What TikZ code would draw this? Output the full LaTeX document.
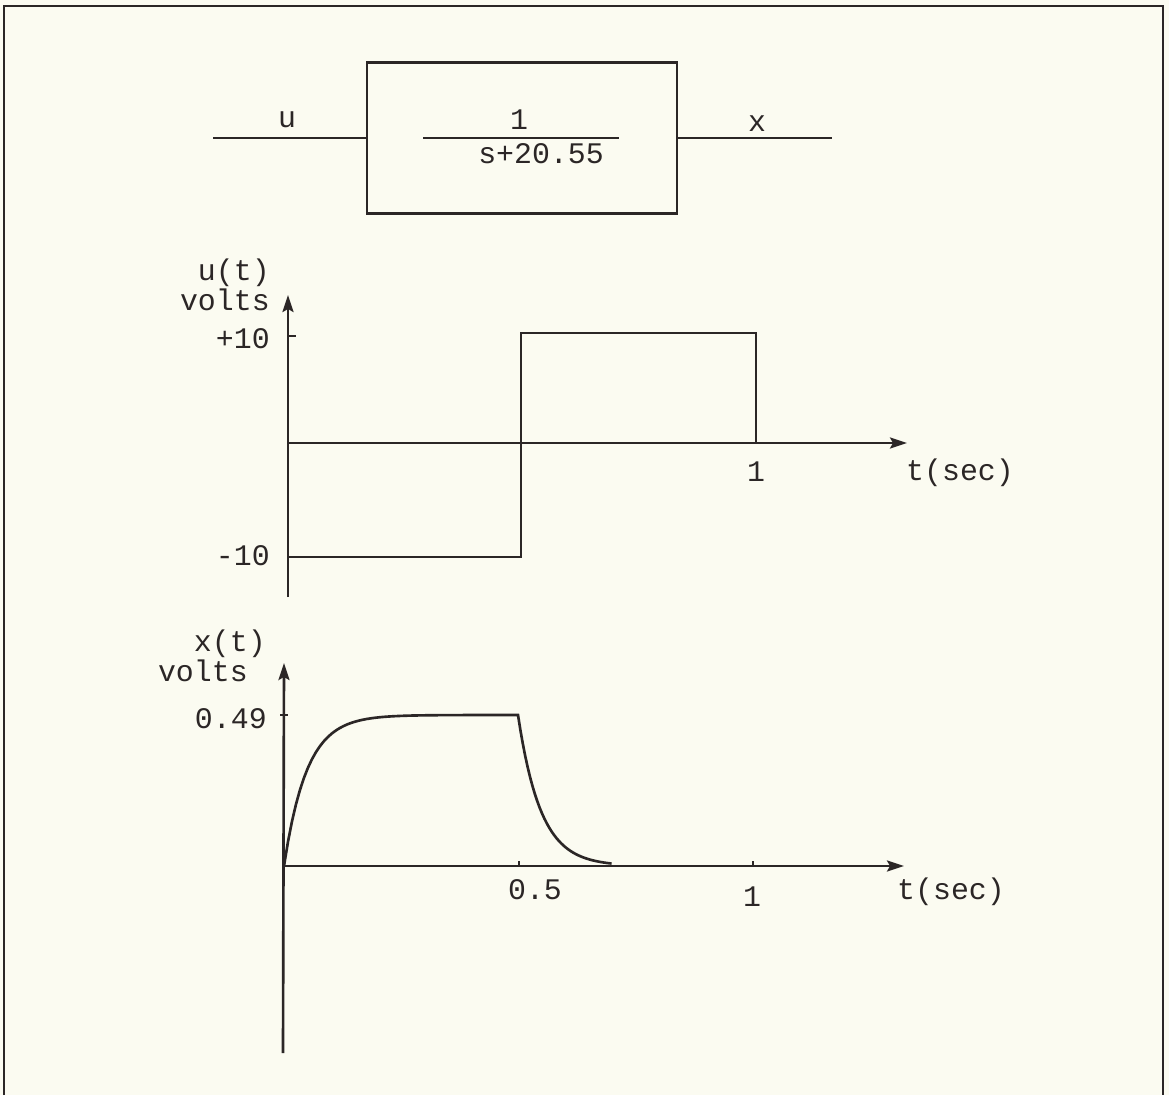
\documentclass[tikz,border=0pt]{standalone}
\usepackage{fontspec}
\setmainfont{Liberation Mono}
\usepackage{tikz}
\usetikzlibrary{arrows.meta}
\usepackage{xcolor}
\definecolor{ink}{HTML}{2B2626}
\definecolor{paper}{HTML}{FBFBF1}

\begin{document}
\begin{tikzpicture}[x=0.02cm,y=-0.02cm,line width=1.5pt,color=ink,
  every node/.style={inner sep=0pt,font=\fontsize{17}{20}\selectfont},
  lbl/.style={anchor=base},
  lblr/.style={anchor=base east},
  axis/.style={-{Stealth[length=0.34cm,width=0.22cm,inset=0.06cm]}}]
  \useasboundingbox (0,0) rectangle (1169,1095);
  \fill[paper] (0,0) rectangle (1169,1095);
  \draw[line width=1pt] (4,1095) -- (4,6) -- (1163,6) -- (1163,1095);
  % block diagram
  \node[draw,minimum width=6.2cm,minimum height=3.02cm] (plant) at (522,138) {};
  \coordinate (uin) at (213,138);
  \coordinate (xout) at (832,138);
  \draw (uin) -- (plant.west);
  \draw (plant.east) -- (xout);
  \node[lbl] (ulab) at (287,128) {u};
  \node[lbl] (xlab) at (757,132) {x};
  \node[lbl] (num) at (519,130) {1};
  \node[lbl] (den) at (541,163) {s+20.55};
  \coordinate (barl) at (423,138);
  \coordinate (barr) at (619,138);
  \draw (barl) -- (barr);
  % u(t)
  \coordinate (uo) at (288,443);
  \coordinate (ubot) at (288,597);
  \coordinate (utop) at (288,295);
  \coordinate (uend) at (907,443);
  \draw[axis] (ubot) -- (utop);
  \draw[axis] (uo) -- (uend);
  \draw (288,336) -- ++(8,0);
  \draw (288,557) -- (521,557) -- (521,333) -- (756,333) -- (756,443);
  \node[lblr] (ut) at (271,280) {u(t)};
  \node[lblr] (uvolts) at (271,310) {volts};
  \node[lblr] (uhi) at (271,348) {+10};
  \node[lblr] (ulo) at (271,565) {-10};
  \node[lbl] (uone) at (756,481) {1};
  \node[lbl] (utsec) at (960,480) {t(sec)};
  % x(t)
  \coordinate (xo) at (284,866);
  \coordinate (xbot) at (283,1053);
  \coordinate (xtop) at (284,663);
  \coordinate (xend) at (904,866);
  \draw[axis] (xbot) -- (xtop);
  \draw[axis] (xo) -- (xend);
  \draw (280,715) -- (288,715);
  \draw (519,866) -- ++(0,-5);
  \draw (753,866) -- ++(0,-5);
  \draw plot[domain=0:0.5,samples=60] ({284+468*\x},{866-151*(1-exp(-20.55*\x))})
     -- plot[domain=0.5:0.7,samples=40] ({284+468*\x},{866-151*exp(-20.55*(\x-0.5))});
  \node[lblr] (xt) at (267,651) {x(t)};
  \node[lblr] (xvolts) at (249,681) {volts};
  \node[lblr] (xhi) at (268,728) {0.49};
  \node[lbl] (xhalf) at (535,899) {0.5};
  \node[lbl] (xone) at (752,906) {1};
  \node[lbl] (xtsec) at (951,899) {t(sec)};
\end{tikzpicture}
\end{document}
